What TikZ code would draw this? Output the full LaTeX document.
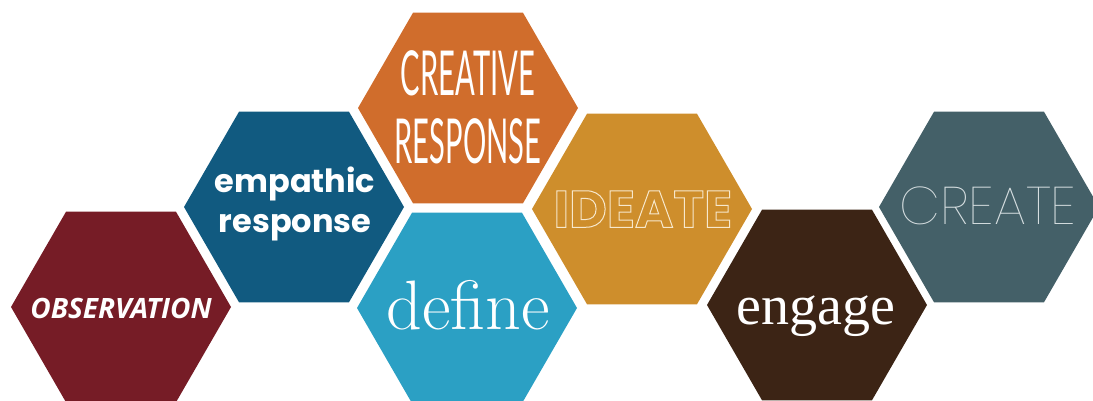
\documentclass[tikz,border=0pt]{standalone}
\usepackage{fontspec}
\usepackage{tikz}
\usepackage{xcolor}
\usetikzlibrary{shapes.geometric}
\newfontfamily\obsfont{Open Sans}
\newfontfamily\empfont{Poppins}
\newfontfamily\crefont{Lato}
\newfontfamily\engfont{Liberation Serif}
\IfFontExistsTF{Poppins Thin}{\newfontfamily\crtfont{Poppins Thin}}{\newfontfamily\crtfont{Lato}}
\definecolor{obscol}{HTML}{761C26}
\definecolor{empcol}{HTML}{115A80}
\definecolor{crecol}{HTML}{D06D2C}
\definecolor{defcol}{HTML}{2BA0C4}
\definecolor{idecol}{HTML}{CE8E2C}
\definecolor{engcol}{HTML}{3C2415}
\definecolor{crtcol}{HTML}{446068}
\definecolor{crttext}{HTML}{D8E0E2}
\newcommand{\outlined}[1]{\special{pdf:literal direct 1 Tr 0.5 w 0.97 0.91 0.80 RG}#1\special{pdf:literal direct 0 Tr}}
\tikzstyle{hex} = [regular polygon, regular polygon sides=6, minimum size=110pt, inner sep=0pt, outer sep=0pt]
\tikzstyle{word} = [text=white, inner sep=0pt, align=center]

\begin{document}
\begin{tikzpicture}[x=0.5pt, y=-0.5pt]
			\useasboundingbox (0,0) rectangle (1093,401);
			\node[hex, fill=obscol] (obs) at (121, 307) {};
			\node[hex, fill=empcol] (emp) at (294, 207) {};
			\node[hex, fill=crecol] (cre) at (468, 108) {};
			\node[hex, fill=defcol] (def) at (467, 308) {};
			\node[hex, fill=idecol] (ide) at (642, 209) {};
			\node[hex, fill=engcol] (eng) at (817, 305) {};
			\node[hex, fill=crtcol] (crt) at (989, 207) {};
			\node[word, font=\obsfont\bfseries\itshape\fontsize{14}{16}\selectfont] (obs-txt) at (121, 308) {OBSERVATION};
			\node[word, font=\empfont\bfseries\fontsize{16}{20}\selectfont] (emp-txt) at (295, 204) {empathic\\response};
			\node[word, font=\crefont\fontsize{31}{34}\selectfont] (cre-txt) at (468, 107) {\scalebox{0.47}[1]{CREATIVE}\\\scalebox{0.47}[1]{RESPONSE}};
			\node[word, font=\rmfamily\fontsize{35}{38}\selectfont] (def-txt) at (468, 305) {define};
			\node[word, font=\empfont\bfseries\fontsize{26}{30}\selectfont] (ide-txt) at (643, 209) {\outlined{IDEATE}};
			\node[word, font=\engfont\fontsize{28}{32}\selectfont] (eng-txt) at (816, 316) {engage};
			\node[word, text=crttext, font=\crtfont\fontsize{26.5}{30}\selectfont] (crt-txt) at (988, 206) {CREATE};
		\end{tikzpicture}
\end{document}
